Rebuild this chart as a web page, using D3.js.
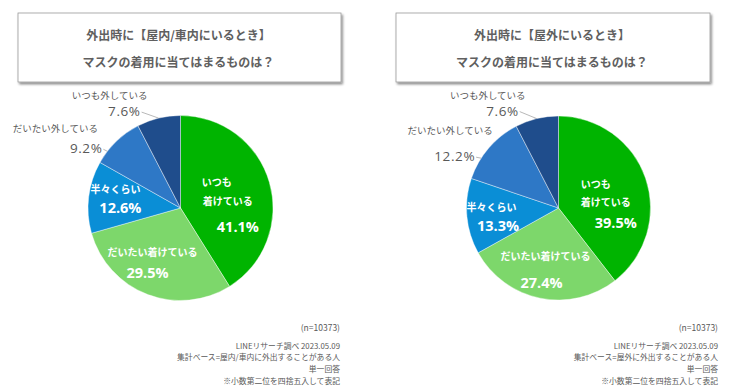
<!DOCTYPE html>
<html>
<head>
<meta charset="utf-8">
<script src="https://cdn.jsdelivr.net/npm/d3@7"></script>
<style>
  body { margin: 0; background: #fff; }
  svg { display: block; font-family: "Noto Sans CJK JP", "Noto Sans", sans-serif; }
</style>
</head>
<body>
<svg id="chart" width="740" height="388"></svg>
<script>
// data
const categories = ["いつも着けている", "だいたい着けている", "半々くらい", "だいたい外している", "いつも外している"];
const categoryLines = [["いつも", "着けている"], ["だいたい着けている"], ["半々くらい"], ["だいたい外している"], ["いつも外している"]];
const indoorValues = [41.1, 29.5, 12.6, 9.2, 7.6];
const outdoorValues = [39.5, 27.4, 13.3, 12.2, 7.6];
const indoorTitle = ["外出時に【屋内/車内にいるとき】", "マスクの着用に当てはまるものは？"];
const outdoorTitle = ["外出時に【屋外にいるとき】", "マスクの着用に当てはまるものは？"];
const indoorNotes = ["(n=10373)", "LINEリサーチ調べ 2023.05.09", "集計ベース=屋内/車内に外出することがある人", "単一回答", "※小数第二位を四捨五入して表記"];
const outdoorNotes = ["(n=10373)", "LINEリサーチ調べ 2023.05.09", "集計ベース=屋外に外出することがある人", "単一回答", "※小数第二位を四捨五入して表記"];

const colours = ["#00b400", "#7dd76b", "#0a8ed6", "#2e78c6", "#1f4d8c"];
const noteY = [327, 345, 356, 368, 380];

// layout of each panel; label offsets are relative to the slice centroid / leader point
const panels = [
  {
    values: indoorValues, title: indoorTitle, notes: indoorNotes,
    box: [18, 13, 323, 69], cx: 180.5, cy: 208, r: 92.5, noteX: 340,
    inside: [
      { lines: [[-17, -11], [-6, 8]], pct: [4, 34] },
      { lines: [[-8, -8]], pct: [-13, 13] },
      { lines: [[-10, -13]], pct: [-5, 6] }
    ],
    outside: [
      null, null, null,
      { at: 0.25, name: [-52, -23], pct: [-5, -3] },
      { at: 0.5, name: [-49, -23], pct: [-18, -7] }
    ]
  },
  {
    values: outdoorValues, title: outdoorTitle, notes: outdoorNotes,
    box: [396, 13, 314, 69], cx: 558.5, cy: 208, r: 92, noteX: 718,
    inside: [
      { lines: [[-15, -7], [-5, 11]], pct: [5, 32] },
      { lines: [[-2, -7]], pct: [-6, 20] },
      { lines: [[-12, -7]], pct: [-5.5, 12] }
    ],
    outside: [
      null, null, null,
      { at: 0.32, name: [-31, -28], pct: [-6, -2] },
      { at: 0.5, name: [-49, -24], pct: [-18, -8] }
    ]
  }
];

const svg = d3.select("#chart");
svg.append("rect").attr("width", 740).attr("height", 388).attr("fill", "#fff");

const defs = svg.append("defs");
const shadow = defs.append("filter").attr("id", "shadow")
  .attr("x", "-5%").attr("y", "-10%").attr("width", "115%").attr("height", "130%");
shadow.append("feDropShadow").attr("dx", 1.5).attr("dy", 2).attr("stdDeviation", 1.2)
  .attr("flood-color", "#000").attr("flood-opacity", 0.45);

const pie = d3.pie().sort(null).value(d => d);

panels.forEach(p => {
  const g = svg.append("g");

  // title box
  const [bx, by, bw, bh] = p.box;
  g.append("rect").attr("x", bx).attr("y", by).attr("width", bw).attr("height", bh)
    .attr("fill", "#fff").attr("stroke", "#9a9a9a").attr("stroke-width", 0.8)
    .attr("filter", "url(#shadow)");
  g.selectAll("text.title").data(p.title).join("text")
    .attr("class", "title")
    .attr("x", bx + bw / 2 - 1)
    .attr("y", (d, i) => by + 21 + i * 27)
    .attr("text-anchor", "middle").attr("dominant-baseline", "central")
    .attr("font-size", 12).attr("font-weight", 700).attr("fill", "#606060")
    .text(d => d);

  // pie
  const arcs = pie(p.values);
  const arc = d3.arc().innerRadius(0).outerRadius(p.r);
  const labelArc = d3.arc().innerRadius(p.r * 0.6).outerRadius(p.r * 0.6);
  const pg = g.append("g").attr("transform", `translate(${p.cx},${p.cy})`);

  pg.selectAll("path").data(arcs).join("path")
    .attr("d", arc)
    .attr("fill", (d, i) => colours[i])
    .attr("stroke", "#fff").attr("stroke-width", 0.4);

  // inside labels
  arcs.forEach((a, i) => {
    const lay = p.inside[i];
    if (!lay) return;
    const [x, y] = labelArc.centroid(a);
    categoryLines[i].forEach((line, j) => {
      pg.append("text")
        .attr("x", x + lay.lines[j][0]).attr("y", y + lay.lines[j][1])
        .attr("text-anchor", "middle").attr("dominant-baseline", "central")
        .attr("font-size", 10).attr("font-weight", 700).attr("fill", "#fff")
        .text(line);
    });
    pg.append("text")
      .attr("x", x + lay.pct[0]).attr("y", y + lay.pct[1])
      .attr("text-anchor", "middle").attr("dominant-baseline", "central")
      .attr("font-family", "'Open Sans', 'Noto Sans', sans-serif")
      .attr("font-size", 14.5).attr("font-weight", 700).attr("fill", "#fff")
      .text(d3.format(".1f")(a.data) + "%");
  });

  // outside labels with leader lines
  arcs.forEach((a, i) => {
    const lay = p.outside[i];
    if (!lay) return;
    const ang = a.startAngle + (a.endAngle - a.startAngle) * lay.at;
    const px = p.r * Math.sin(ang), py = -p.r * Math.cos(ang);
    const tx = px + lay.pct[0], ty = py + lay.pct[1];
    pg.append("line")
      .attr("x1", tx + 1).attr("y1", ty + 1).attr("x2", px).attr("y2", py)
      .attr("stroke", "#a6a6a6").attr("stroke-width", 0.8);
    pg.append("text")
      .attr("x", px + lay.name[0]).attr("y", py + lay.name[1])
      .attr("text-anchor", "middle").attr("dominant-baseline", "central")
      .attr("font-size", 9.5).attr("fill", "#595959")
      .text(categoryLines[i].join(""));
    pg.append("text")
      .attr("x", tx).attr("y", ty)
      .attr("text-anchor", "end").attr("dominant-baseline", "central")
      .attr("font-family", "'Open Sans', 'Noto Sans', sans-serif")
      .attr("font-size", 13.5).attr("letter-spacing", 0.6).attr("fill", "#595959")
      .text(d3.format(".1f")(a.data) + "%");
  });

  // notes
  g.selectAll("text.note").data(p.notes).join("text")
    .attr("class", "note")
    .attr("x", p.noteX).attr("y", (d, i) => noteY[i])
    .attr("text-anchor", "end").attr("dominant-baseline", "central")
    .attr("font-size", (d, i) => i === 0 ? 8.5 : 7.8).attr("fill", "#595959")
    .text(d => d);
});
</script>
</body>
</html>
